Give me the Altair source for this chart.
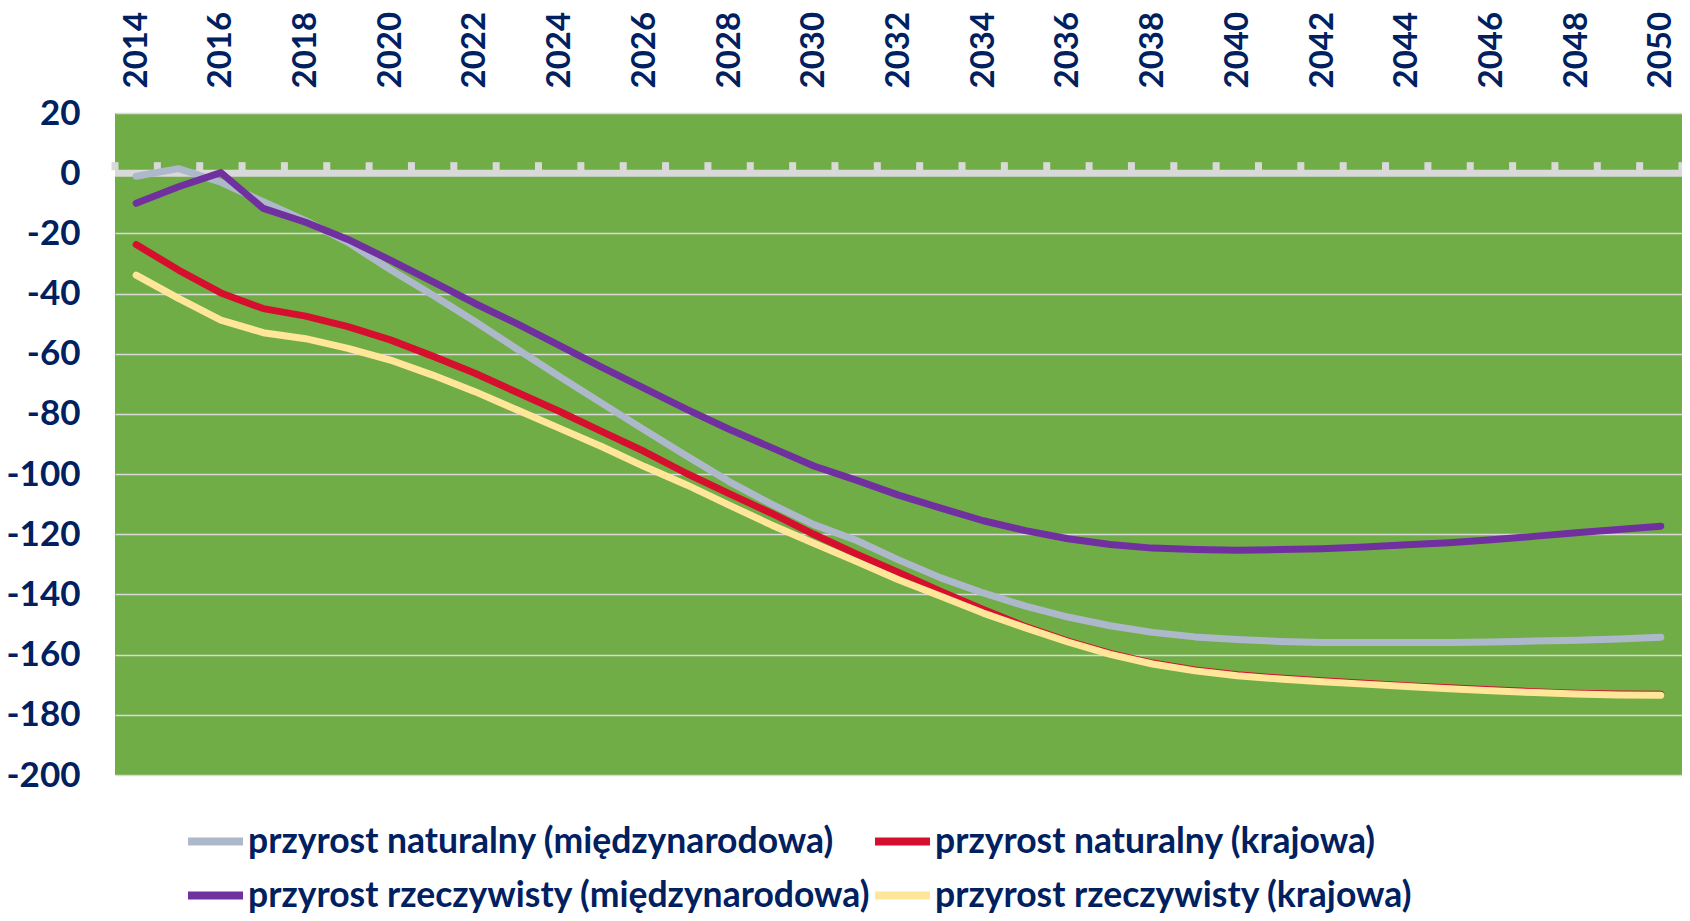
import altair as alt
import pandas as pd

# ---- data ----
years = list(range(2014, 2051))

nat_mi = [-1, 1.5, -3, -9.5, -15.8, -23, -32, -40.5, -49.3, -58.5,
          -67.6, -76.5, -85.3, -94, -102.5, -110, -116.8, -122, -128.5, -134.5,
          -139.5, -143.9, -147.5, -150.4, -152.6, -154.1, -155, -155.6, -156, -156,
          -156, -156, -155.8, -155.5, -155.2, -154.8, -154.2]

nat_kr = [-23.7, -32.2, -39.8, -45, -47.5, -51, -55.4, -60.8, -66.5, -72.9,
          -79.2, -85.9, -92.5, -99.8, -106.5, -113, -120, -126.5, -132.7, -139,
          -145, -150.7, -155.5, -159.6, -162.8, -165.1, -166.7, -167.8, -168.7, -169.5,
          -170.3, -171, -171.7, -172.3, -172.8, -173.1, -173.2]

rz_mi = [-10, -4.5, 0.2, -11.7, -16.3, -22, -28.9, -36, -43.3, -50.1,
         -57.3, -64.5, -71.5, -78.5, -85.1, -91.2, -97.3, -102, -107, -111.3,
         -115.5, -118.8, -121.5, -123.4, -124.6, -125.1, -125.3, -125.1, -124.8, -124.2,
         -123.5, -122.8, -121.8, -120.7, -119.5, -118.4, -117.3]

rz_kr = [-33.9, -41.6, -48.8, -53, -55, -58.2, -62.1, -67.1, -72.6, -78.7,
         -84.8, -90.9, -97.5, -103.6, -110.3, -116.9, -123, -129, -135.1, -140.6,
         -146.2, -151.1, -155.8, -159.9, -163.1, -165.4, -167, -168.1, -169, -169.8,
         -170.6, -171.3, -172, -172.6, -173.1, -173.4, -173.5]

series_names = [
    "przyrost naturalny (międzynarodowa)",
    "przyrost naturalny (krajowa)",
    "przyrost rzeczywisty (międzynarodowa)",
    "przyrost rzeczywisty (krajowa)",
]
series_colors = ["#ADB9CA", "#D50F2D", "#7030A0", "#FFE699"]

y_ticks = list(range(-200, 21, 20))
x_label_years = list(range(2014, 2051, 2))
boundaries = [y - 0.5 for y in range(2014, 2052)]

rows = []
for name, vals in zip(series_names, [nat_mi, nat_kr, rz_mi, rz_kr]):
    for yr, v in zip(years, vals):
        rows.append({"rok": yr, "wartosc": v, "seria": name})
df = pd.DataFrame(rows)

NAVY = "#002060"
FONT = "Lato"
GRID = "#D9D9D9"

x_scale = alt.Scale(domain=[2013.5, 2050.5], nice=False, zero=False)
y_scale = alt.Scale(domain=[-200, 20], nice=False, zero=False)
color_scale = alt.Scale(domain=series_names, range=series_colors)

x_axis = alt.Axis(
    orient="top", values=x_label_years, labelExpr="'' + datum.value",
    labelAngle=-90, labelAlign="left", labelBaseline="middle",
    labelPadding=25, ticks=False, domain=False, grid=False, title=None,
    labelFont=FONT, labelFontSize=33, labelFontWeight="bold", labelColor=NAVY,
    labelFlush=False, labelOverlap=False,
)
y_axis = alt.Axis(
    values=y_ticks, labelExpr="'' + datum.value", domain=False, ticks=False,
    labelPadding=35, grid=True, gridColor=GRID, gridWidth=1.5, gridOpacity=1,
    title=None, labelFont=FONT, labelFontSize=35, labelFontWeight="bold",
    labelColor=NAVY, labelFlush=False, labelOverlap=False,
)
legend = alt.Legend(
    title=None, orient="none", legendX=69, legendY=697, columns=2,
    direction="horizontal",
    symbolType="stroke", symbolSize=3025, symbolStrokeWidth=8,
    labelFont=FONT, labelFontSize=35.5, labelFontWeight="bold", labelColor=NAVY,
    labelLimit=1000, columnPadding=-29, rowPadding=4, labelOffset=1, padding=0,
)

zero_line = alt.Chart(pd.DataFrame({"y": [0]})).mark_rule(
    color=GRID, strokeWidth=7
).encode(y=alt.Y("y:Q", scale=y_scale, axis=y_axis))

zero_ticks = alt.Chart(pd.DataFrame({"x": boundaries, "y": [0] * len(boundaries)})).mark_tick(
    orient="vertical", size=8, thickness=7, yOffset=-7, color=GRID, opacity=1
).encode(
    x=alt.X("x:Q", scale=x_scale, axis=x_axis),
    y=alt.Y("y:Q", scale=y_scale, axis=y_axis),
)

layers = [zero_line, zero_ticks]
for name in series_names:
    layers.append(
        alt.Chart(df).transform_filter(alt.datum.seria == name).mark_line(
            strokeWidth=7, strokeCap="round", strokeJoin="round"
        ).encode(
            x=alt.X("rok:Q", scale=x_scale, axis=x_axis),
            y=alt.Y("wartosc:Q", scale=y_scale, axis=y_axis),
            color=alt.Color("seria:N", scale=color_scale, legend=legend),
        )
    )

chart = alt.layer(*layers).properties(
    width=1567, height=662,
    padding={"left": 107, "top": 105, "right": 0, "bottom": 138},
    autosize=alt.AutoSizeParams(type="none"),
    background="white",
).configure_view(fill="#70AD47", strokeWidth=0)

chart.save("out.html", embed_options={"renderer": "svg", "actions": False})
